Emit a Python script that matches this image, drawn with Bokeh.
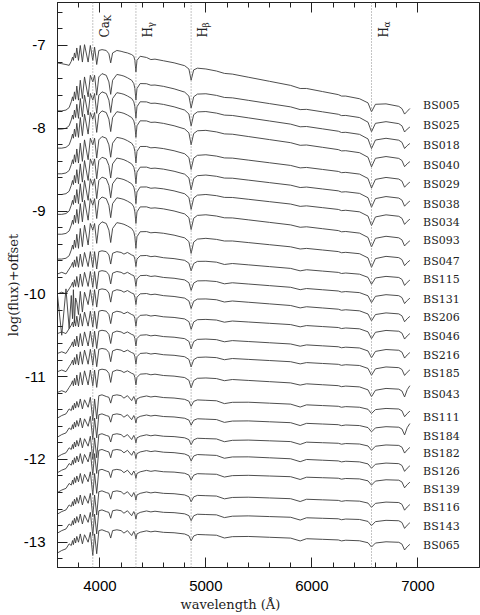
import numpy as np
from bokeh.plotting import figure
from bokeh.models import (Range1d, LinearAxis, SingleIntervalTicker, FixedTicker,
                          Span, ColumnDataSource, Title)
from bokeh.core.properties import value
from bokeh.embed import file_html
from bokeh.resources import INLINE

# ---------------- data ----------------
wave = [3600, 3640, 3680, 3710, 3730, 3742, 3750, 3760, 3771, 3782,
        3798, 3815, 3835, 3855, 3889, 3910, 3933, 3950, 3970, 3990,
        4020, 4060, 4085, 4102, 4120, 4160, 4200, 4227, 4260, 4300,
        4320, 4330, 4340, 4350, 4380, 4440, 4481, 4520, 4600, 4700,
        4800, 4840, 4861, 4885, 4920, 5000, 5100, 5175, 5250, 5400,
        5600, 5800, 5890, 5950, 6100, 6250, 6280, 6320, 6450, 6530,
        6563, 6600, 6700, 6820, 6850, 6875, 6900, 6925]

# spectral shapes (log flux relative to the level at 4380 A, red part relative to the tilted continuum)
shape_A = [-0.08, -0.09, -0.10, -0.11, -0.06, -0.01, -0.05, 0.04, -0.02, 0.10,
           -0.05, 0.13, -0.07, 0.14, -0.07, 0.13, -0.05, 0.11, -0.10, 0.07,
           0.08, 0.07, 0.03, -0.08, 0.04, 0.07, 0.06, 0.05, 0.04, 0.02,
           0.00, -0.05, -0.19, -0.05, 0.00, 0.00, -0.015, 0.00, 0.00, 0.00,
           -0.01, -0.04, -0.17, -0.04, -0.01, 0.00, 0.00, -0.01, 0.00, 0.00,
           0.00, 0.00, -0.015, 0.00, 0.00, 0.00, -0.01, 0.00, 0.00, -0.03,
           -0.13, -0.03, 0.00, 0.00, -0.02, -0.08, -0.04, 0.00]
shape_B = [-0.33, -0.33, -0.32, -0.29, -0.22, -0.16, -0.21, -0.10, -0.19, -0.03,
           -0.20, 0.04, -0.18, 0.08, -0.16, 0.10, 0.02, 0.10, -0.14, 0.08,
           0.12, 0.10, 0.02, -0.13, 0.04, 0.11, 0.10, 0.09, 0.07, 0.04,
           0.00, -0.06, -0.20, -0.06, 0.00, 0.01, 0.00, 0.01, 0.01, 0.00,
           -0.02, -0.06, -0.20, -0.06, -0.02, 0.00, 0.00, -0.01, 0.00, 0.00,
           0.00, 0.00, -0.015, 0.00, 0.00, 0.00, -0.01, 0.00, 0.00, -0.04,
           -0.15, -0.04, 0.00, 0.00, -0.02, -0.09, -0.05, -0.02]
shape_C = [-0.22, -0.20, -0.22, -0.16, -0.12, -0.08, -0.14, -0.05, -0.13, -0.01,
           -0.14, 0.02, -0.13, 0.04, -0.13, 0.05, -0.14, 0.05, -0.16, 0.05,
           0.06, 0.05, 0.01, -0.10, 0.03, 0.05, 0.04, 0.02, 0.04, 0.01,
           0.00, -0.04, -0.13, -0.04, 0.00, 0.01, 0.00, 0.01, 0.00, 0.00,
           -0.01, -0.04, -0.13, -0.04, -0.01, 0.00, 0.00, -0.02, 0.00, 0.00,
           0.00, 0.00, -0.02, 0.00, 0.00, 0.00, -0.01, 0.00, 0.00, -0.03,
           -0.11, -0.03, 0.00, 0.00, -0.02, -0.09, -0.05, -0.02]
shape_D = [-0.25, -0.22, -0.20, -0.14, -0.16, -0.10, -0.15, -0.07, -0.13, -0.05,
           -0.12, -0.02, -0.14, -0.03, -0.12, 0.00, -0.28, -0.02, -0.26, 0.02,
           0.03, 0.01, 0.00, -0.07, 0.02, 0.03, 0.02, -0.01, 0.02, -0.04,
           0.01, -0.02, -0.08, -0.02, 0.00, 0.02, 0.01, 0.02, 0.01, 0.01,
           0.00, -0.02, -0.08, -0.02, 0.00, 0.00, 0.00, -0.03, -0.01, 0.00,
           0.00, 0.00, -0.03, 0.00, 0.00, 0.00, -0.01, 0.00, 0.00, -0.02,
           -0.07, -0.02, 0.00, 0.00, -0.02, -0.09, -0.05, -0.02]
shapes = {"A": shape_A, "B": shape_B, "C": shape_C, "D": shape_D}

stars = ["BS005", "BS025", "BS018", "BS040", "BS029", "BS038", "BS034", "BS093",
         "BS047", "BS115", "BS131", "BS206", "BS046", "BS216", "BS185", "BS043",
         "BS111", "BS184", "BS182", "BS126", "BS139", "BS116", "BS143", "BS065"]
level_4380 = [-7.13, -7.46, -7.68, -7.91, -8.22, -8.47, -8.71, -8.95,
              -9.25, -9.54, -9.78, -10.00, -10.26, -10.50, -10.72, -10.97,
              -11.25, -11.48, -11.72, -11.91, -12.15, -12.41, -12.64, -12.88]
drop_4380_6800 = [0.60, 0.48, 0.46, 0.45, 0.39, 0.37, 0.35, 0.37,
                  0.31, 0.26, 0.24, 0.24, 0.19, 0.18, 0.17, 0.18,
                  0.14, 0.13, 0.11, 0.14, 0.10, 0.11, 0.10, 0.12]
star_type = ["A", "B", "B", "B", "B", "B", "B", "B",
             "B", "C", "C", "C", "C", "C", "C", "C",
             "D", "D", "D", "D", "D", "D", "D", "D"]
label_y = [-7.72, -7.97, -8.21, -8.45, -8.68, -8.92, -9.14, -9.36,
           -9.61, -9.83, -10.07, -10.29, -10.51, -10.74, -10.96, -11.22,
           -11.49, -11.72, -11.93, -12.15, -12.36, -12.58, -12.81, -13.04]

# star-specific features: noisy blue end, red-end upturns
noisy_blue = {"BS206": [-0.02, -0.50, 0.06, -0.42, -0.02, -0.30, 0.05, -0.35,
                        -0.05, -0.10, -0.25, 0.03, -0.22, 0.02]}
red_tail = {"BS043": [-0.09, 0.00, 0.05], "BS184": [-0.09, 0.00, 0.05]}

line_waves = [3933, 4340, 4861, 6563]
line_main = ["Ca", "H", "H", "H"]
line_sub = ["K", "γ", "β", "α"]

x_major = [4000, 5000, 6000, 7000]
x_minor = [3600, 3800, 4200, 4400, 4600, 4800, 5200, 5400, 5600, 5800,
           6200, 6400, 6600, 6800]
y_major = [-13, -12, -11, -10, -9, -8, -7]
y_tick_labels = ["-13", "-12", "-11", "-10", "-9", "-8", "-7"]

# ---------------- build spectra ----------------
W = np.array(wave, dtype=float)
tilt = np.clip(W - 4380.0, 0, None) / (6800.0 - 4380.0)

xs, ys = [], []
for name, lev, drop, typ in zip(stars, level_4380, drop_4380_6800, star_type):
    s = np.array(shapes[typ], dtype=float)
    if name in noisy_blue:
        nb = noisy_blue[name]
        s[:len(nb)] = nb
    if name in red_tail:
        rt = red_tail[name]
        s[-len(rt):] = rt
    xs.append(list(W))
    ys.append(list(lev + s - drop * tilt))

# ---------------- figure ----------------
p = figure(width=480, height=615, output_backend="svg", toolbar_location=None,
           x_range=Range1d(3600, 7582), y_range=Range1d(-13.3056, -6.4807),
           min_border_left=57, min_border_right=1, min_border_top=2,
           min_border_bottom=48)
p.grid.visible = False
p.background_fill_color = "white"
p.border_fill_color = "white"
p.outline_line_color = "#222222"
p.outline_line_width = 1

p.multi_line(xs, ys, line_color="#3a3a3a", line_width=0.9)

for w in line_waves:
    p.add_layout(Span(location=w, dimension="height", line_color="#8a8a8a",
                      line_dash="1 2", line_width=1))

ly = [-6.903] * len(line_waves)
src_main = ColumnDataSource(dict(x=line_waves, y=ly, t=line_main))
src_sub = ColumnDataSource(dict(x=line_waves, y=ly, t=line_sub,
                                yo=[-16, -10, -10, -10]))
p.text(x="x", y="y", text="t", source=src_main, angle=np.pi / 2, x_offset=12,
       text_align="left", text_baseline="alphabetic",
       text_font=value("DejaVu Serif"), text_font_size="12px", text_color="#222222")
p.text(x="x", y="y", text="t", source=src_sub, angle=np.pi / 2, x_offset=15,
       y_offset="yo", text_align="left", text_baseline="alphabetic",
       text_font=value("DejaVu Serif"), text_font_size="9px", text_color="#222222")

p.text(x=[7050] * len(stars), y=label_y, text=stars, text_align="left",
       text_baseline="middle", text_font=value("DejaVu Serif"),
       text_font_size="11px", text_color="#222222")

# axes
def style_axis(ax):
    ax.major_tick_in = 10
    ax.major_tick_out = 0
    ax.minor_tick_in = 5
    ax.minor_tick_out = 0
    ax.axis_line_color = "#222222"
    ax.major_tick_line_color = "#222222"
    ax.minor_tick_line_color = "#222222"
    ax.major_label_text_font = "Liberation Sans"
    ax.major_label_text_font_size = "15px"
    ax.major_label_text_color = "black"

xa = p.xaxis[0]
xa.ticker = FixedTicker(ticks=x_major, minor_ticks=x_minor)
style_axis(xa)
xa.major_label_standoff = 13

ya = p.yaxis[0]
ya.ticker = SingleIntervalTicker(interval=1, num_minor_ticks=5)
style_axis(ya)
ya.major_label_overrides = {v: t for v, t in zip(y_major, y_tick_labels)}
ya.major_label_standoff = 12
ya.axis_label = "log(flux)+offset"
ya.axis_label_text_font = "DejaVu Serif"
ya.axis_label_text_font_size = "13px"
ya.axis_label_text_font_style = "normal"
ya.axis_label_text_color = "#222222"
ya.axis_label_standoff = 0

top = LinearAxis(ticker=FixedTicker(ticks=x_major, minor_ticks=x_minor))
style_axis(top)
top.major_label_text_color = None
top.major_label_text_font_size = "1px"
top.major_label_standoff = 0
p.add_layout(top, "above")

p.add_layout(Title(text="wavelength (Å)", align="left", offset=123,
                   text_font="DejaVu Serif", text_font_size="13px",
                   text_font_style="normal", text_color="#222222", standoff=2),
             "below")

open("out.html", "w").write(file_html(p, INLINE))
